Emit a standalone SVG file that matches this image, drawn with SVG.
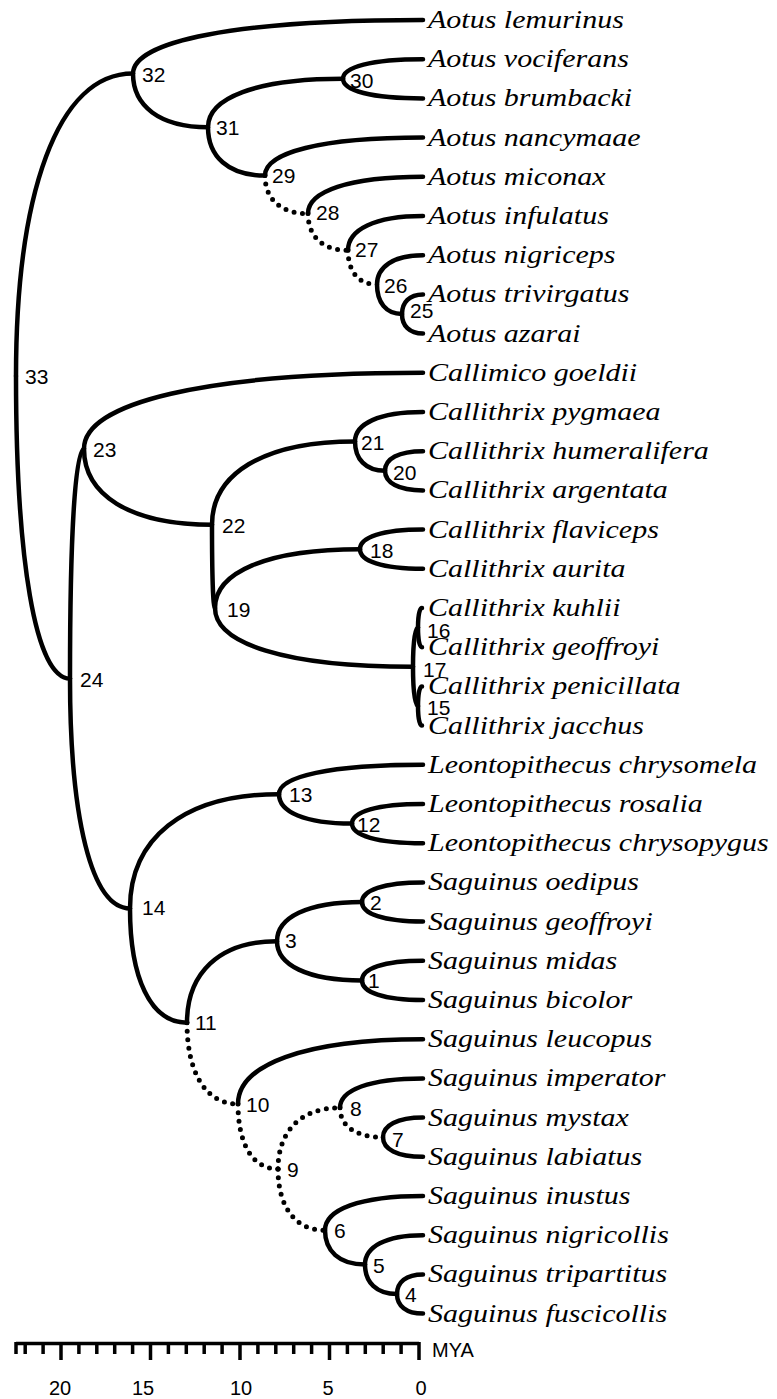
<svg xmlns="http://www.w3.org/2000/svg" width="777" height="1399" viewBox="0 0 777 1399">
<style>
.e{fill:none;stroke:#000;stroke-width:4.5;stroke-linecap:round}
.d{fill:none;stroke:#000;stroke-width:5;stroke-linecap:round;stroke-dasharray:0 8.5}
.n{font-family:"Liberation Sans",Arial,sans-serif;font-size:21px;fill:#000}
.s{font-family:"Liberation Serif","Times New Roman",serif;font-style:italic;font-size:25px;fill:#000}
.ax{fill:none;stroke:#000;stroke-width:3.5}
.t{font-family:"Liberation Sans",Arial,sans-serif;font-size:20px;fill:#000}
</style>
<rect width="777" height="1399" fill="#fff"/>
<g id="connectors">
<path class="e" d="M16,376.1 C16,194.6 57,73.6 133,73.6"/>
<path class="e" d="M16,376.1 C16,557.6 34.9,678.6 70,678.6"/>
<path class="e" d="M133,73.6 C133,41.4 234.5,20 423,20"/>
<path class="e" d="M133,73.6 C133,105.8 159.3,127.2 208,127.2"/>
<path class="e" d="M208,127.2 C208,98.2 255.3,78.8 343,78.8"/>
<path class="e" d="M208,127.2 C208,156.2 228,175.6 265,175.6"/>
<path class="e" d="M343,78.8 C343,67 371,59.2 423,59.2"/>
<path class="e" d="M343,78.8 C343,90.6 371,98.4 423,98.4"/>
<path class="e" d="M265,175.6 C265,152.8 320.3,137.6 423,137.6"/>
<path class="d" d="M265,175.6 C265,198.4 280,213.6 308,213.6"/>
<path class="e" d="M308,213.6 C308,191.5 348.3,176.8 423,176.8"/>
<path class="d" d="M308,213.6 C308,235.6 322,250.3 348,250.3"/>
<path class="e" d="M348,250.3 C348,229.7 374.3,216 423,216"/>
<path class="d" d="M348,250.3 C348,270.9 358.2,284.6 377,284.6"/>
<path class="e" d="M377,284.6 C377,267 393.1,255.2 423,255.2"/>
<path class="e" d="M377,284.6 C377,302.2 385.8,314 402,314"/>
<path class="e" d="M402,314 C402,302.2 409.4,294.4 423,294.4"/>
<path class="e" d="M402,314 C402,325.8 409.4,333.6 423,333.6"/>
<path class="e" d="M70,678.6 C70,540.7 74.9,448.75 84,448.75"/>
<path class="e" d="M70,678.6 C70,816.5 91,908.4 130,908.4"/>
<path class="e" d="M84,448.75 C84,403.2 202.7,372.8 423,372.8"/>
<path class="e" d="M84,448.75 C84,494.3 128.8,524.7 212,524.7"/>
<path class="e" d="M212,524.7 C212,474.7 262,441.4 355,441.4"/>
<path class="e" d="M212,524.7 C212,574.7 213,608 215,608"/>
<path class="e" d="M355,441.4 C355,423.8 378.8,412 423,412"/>
<path class="e" d="M355,441.4 C355,459 365.5,470.8 385,470.8"/>
<path class="e" d="M385,470.8 C385,459 398.3,451.2 423,451.2"/>
<path class="e" d="M385,470.8 C385,482.6 398.3,490.4 423,490.4"/>
<path class="e" d="M215,608 C215,572.7 265.8,549.2 360,549.2"/>
<path class="e" d="M215,608 C215,643.3 284.3,666.8 413,666.8"/>
<path class="e" d="M360,549.2 C360,537.4 382,529.6 423,529.6"/>
<path class="e" d="M360,549.2 C360,561 382,568.8 423,568.8"/>
<path class="e" d="M413,666.8 C413,643.3 414.8,627.6 418,627.6"/>
<path class="e" d="M413,666.8 C413,690.3 414.8,706 418,706"/>
<path class="e" d="M418,627.6 C418,615.8 419.4,608 422,608"/>
<path class="e" d="M418,627.6 C418,639.4 419.4,647.2 422,647.2"/>
<path class="e" d="M418,706 C418,694.2 419.4,686.4 422,686.4"/>
<path class="e" d="M418,706 C418,717.8 419.4,725.6 422,725.6"/>
<path class="e" d="M130,908.4 C130,839.9 182.2,794.2 279,794.2"/>
<path class="e" d="M130,908.4 C130,977 150,1022.65 187,1022.65"/>
<path class="e" d="M279,794.2 C279,776.6 329.4,764.8 423,764.8"/>
<path class="e" d="M279,794.2 C279,811.8 304.6,823.6 352,823.6"/>
<path class="e" d="M352,823.6 C352,811.8 376.9,804 423,804"/>
<path class="e" d="M352,823.6 C352,835.4 376.9,843.2 423,843.2"/>
<path class="e" d="M187,1022.65 C187,973.8 218.5,941.2 277,941.2"/>
<path class="d" d="M187,1022.65 C187,1071.5 204.9,1104.1 238,1104.1"/>
<path class="e" d="M277,941.2 C277,917.7 306.8,902 362,902"/>
<path class="e" d="M277,941.2 C277,964.7 306.8,980.4 362,980.4"/>
<path class="e" d="M362,902 C362,890.2 383.4,882.4 423,882.4"/>
<path class="e" d="M362,902 C362,913.8 383.4,921.6 423,921.6"/>
<path class="e" d="M362,980.4 C362,968.6 383.4,960.8 423,960.8"/>
<path class="e" d="M362,980.4 C362,992.2 383.4,1000 423,1000"/>
<path class="e" d="M238,1104.1 C238,1065.2 302.8,1039.2 423,1039.2"/>
<path class="d" d="M238,1104.1 C238,1143 252,1169.05 278,1169.05"/>
<path class="d" d="M278,1169.05 C278,1132.3 299.7,1107.8 340,1107.8"/>
<path class="d" d="M278,1169.05 C278,1205.8 294.5,1230.3 325,1230.3"/>
<path class="e" d="M340,1107.8 C340,1090.2 369,1078.4 423,1078.4"/>
<path class="d" d="M340,1107.8 C340,1125.4 355,1137.2 383,1137.2"/>
<path class="e" d="M383,1137.2 C383,1125.4 397,1117.6 423,1117.6"/>
<path class="e" d="M383,1137.2 C383,1149 397,1156.8 423,1156.8"/>
<path class="e" d="M325,1230.3 C325,1209.7 359.3,1196 423,1196"/>
<path class="e" d="M325,1230.3 C325,1250.9 339,1264.6 365,1264.6"/>
<path class="e" d="M365,1264.6 C365,1247 385.3,1235.2 423,1235.2"/>
<path class="e" d="M365,1264.6 C365,1282.2 376.2,1294 397,1294"/>
<path class="e" d="M397,1294 C397,1282.2 406.1,1274.4 423,1274.4"/>
<path class="e" d="M397,1294 C397,1305.8 406.1,1313.6 423,1313.6"/>
</g>
<g id="node-labels">
<text class="n" x="25" y="384">33</text>
<text class="n" x="142" y="82">32</text>
<text class="n" x="216" y="135">31</text>
<text class="n" x="350" y="88">30</text>
<text class="n" x="272" y="183">29</text>
<text class="n" x="316" y="220">28</text>
<text class="n" x="355" y="257">27</text>
<text class="n" x="384" y="293">26</text>
<text class="n" x="410" y="318">25</text>
<text class="n" x="80" y="687">24</text>
<text class="n" x="93" y="457">23</text>
<text class="n" x="222" y="533">22</text>
<text class="n" x="361" y="450">21</text>
<text class="n" x="393" y="480">20</text>
<text class="n" x="227" y="617">19</text>
<text class="n" x="370" y="558">18</text>
<text class="n" x="423" y="677">17</text>
<text class="n" x="427" y="638">16</text>
<text class="n" x="427" y="715">15</text>
<text class="n" x="142" y="915">14</text>
<text class="n" x="289" y="802">13</text>
<text class="n" x="357" y="832">12</text>
<text class="n" x="285" y="948">3</text>
<text class="n" x="370" y="910">2</text>
<text class="n" x="368" y="988">1</text>
<text class="n" x="195" y="1030">11</text>
<text class="n" x="246" y="1112">10</text>
<text class="n" x="287" y="1177">9</text>
<text class="n" x="350" y="1116">8</text>
<text class="n" x="392" y="1147">7</text>
<text class="n" x="334" y="1238">6</text>
<text class="n" x="373" y="1273">5</text>
<text class="n" x="405" y="1302">4</text>
</g>
<g id="leaves" transform="scale(1.2 1)">
<text class="s" x="356.7" y="28">Aotus lemurinus</text>
<text class="s" x="356.7" y="67.2">Aotus vociferans</text>
<text class="s" x="356.7" y="106.4">Aotus brumbacki</text>
<text class="s" x="356.7" y="145.6">Aotus nancymaae</text>
<text class="s" x="356.7" y="184.8">Aotus miconax</text>
<text class="s" x="356.7" y="224">Aotus infulatus</text>
<text class="s" x="356.7" y="263.2">Aotus nigriceps</text>
<text class="s" x="356.7" y="302.4">Aotus trivirgatus</text>
<text class="s" x="356.7" y="341.6">Aotus azarai</text>
<text class="s" x="356.7" y="380.8">Callimico goeldii</text>
<text class="s" x="356.7" y="420">Callithrix pygmaea</text>
<text class="s" x="356.7" y="459.2">Callithrix humeralifera</text>
<text class="s" x="356.7" y="498.4">Callithrix argentata</text>
<text class="s" x="356.7" y="537.6">Callithrix flaviceps</text>
<text class="s" x="356.7" y="576.8">Callithrix aurita</text>
<text class="s" x="356.7" y="616">Callithrix kuhlii</text>
<text class="s" x="356.7" y="655.2">Callithrix geoffroyi</text>
<text class="s" x="356.7" y="694.4">Callithrix penicillata</text>
<text class="s" x="356.7" y="733.6">Callithrix jacchus</text>
<text class="s" x="356.7" y="772.8">Leontopithecus chrysomela</text>
<text class="s" x="356.7" y="812">Leontopithecus rosalia</text>
<text class="s" x="356.7" y="851.2">Leontopithecus chrysopygus</text>
<text class="s" x="356.7" y="890.4">Saguinus oedipus</text>
<text class="s" x="356.7" y="929.6">Saguinus geoffroyi</text>
<text class="s" x="356.7" y="968.8">Saguinus midas</text>
<text class="s" x="356.7" y="1008">Saguinus bicolor</text>
<text class="s" x="356.7" y="1047.2">Saguinus leucopus</text>
<text class="s" x="356.7" y="1086.4">Saguinus imperator</text>
<text class="s" x="356.7" y="1125.6">Saguinus mystax</text>
<text class="s" x="356.7" y="1164.8">Saguinus labiatus</text>
<text class="s" x="356.7" y="1204">Saguinus inustus</text>
<text class="s" x="356.7" y="1243.2">Saguinus nigricollis</text>
<text class="s" x="356.7" y="1282.4">Saguinus tripartitus</text>
<text class="s" x="356.7" y="1321.6">Saguinus fuscicollis</text>
</g>
<g id="axis">
<path class="ax" d="M16,1343.5 H419"/>
<path class="ax" d="M419,1342 V1360 M329.5,1342 V1360 M240,1342 V1360 M150.5,1342 V1360 M61,1342 V1360 M401.1,1342 V1354 M383.2,1342 V1354 M365.3,1342 V1354 M347.4,1342 V1354 M311.6,1342 V1354 M293.7,1342 V1354 M275.8,1342 V1354 M257.9,1342 V1354 M222.1,1342 V1354 M204.2,1342 V1354 M186.3,1342 V1354 M168.4,1342 V1354 M132.6,1342 V1354 M114.7,1342 V1354 M96.8,1342 V1354 M78.9,1342 V1354 M43.1,1342 V1354 M25.2,1342 V1354 M16,1342 V1354"/>
<text class="t" x="432" y="1357">MYA</text>
<text class="t" x="60" y="1395" text-anchor="middle">20</text>
<text class="t" x="143" y="1395" text-anchor="middle">15</text>
<text class="t" x="241" y="1395" text-anchor="middle">10</text>
<text class="t" x="328" y="1395" text-anchor="middle">5</text>
<text class="t" x="421" y="1395" text-anchor="middle">0</text>
</g>
</svg>
